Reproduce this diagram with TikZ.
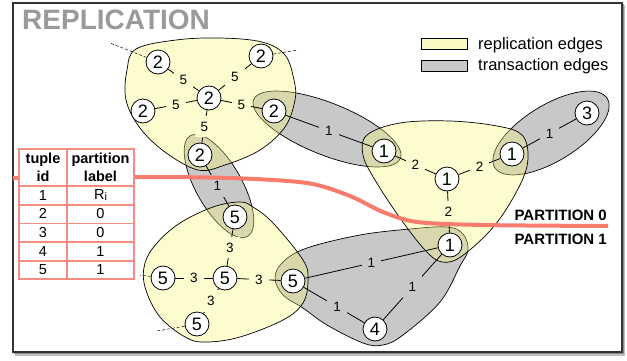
\documentclass[tikz,border=0pt]{standalone}
\usepackage{fontspec}
\setmainfont{Liberation Sans}
\usepackage{xcolor}
\definecolor{ylwfill}{HTML}{F7F778}
\definecolor{ylwbg}{HTML}{FCFCD0}
\definecolor{ylwkey}{HTML}{FAFAC3}
\definecolor{grayfill}{HTML}{C8C8C8}
\definecolor{salmon}{HTML}{F97B6E}
\definecolor{tabline}{HTML}{F48C82}
\definecolor{titlegray}{HTML}{9A9A9A}
\usepackage{tikz}
\usetikzlibrary{positioning,calc}
\newcommand{\fsz}[1]{\fontsize{#1}{#1}\selectfont}

\begin{document}
\begin{tikzpicture}[x=1pt,y=-1pt,
    tup/.style={circle,draw,fill=white,line width=0.8pt,minimum size=24pt,inner sep=0pt,font=\fsz{18}},
    elab/.style={fill=ylwbg,inner sep=6pt,font=\fsz{13.5}},
    glab/.style={elab,fill=grayfill},
    txn/.style={fill=grayfill,draw=black,line width=0.7pt},
    repl/.style={fill=ylwfill,fill opacity=0.35,draw=black,line width=0.7pt},
    ext/.style={densely dashed,line width=0.5pt},
    cell/.style={font=\fsz{14.5},inner sep=0pt}]
  \useasboundingbox (0,0) rectangle (627,360);
  % frame and title
  \fill[black!25] (15,5) rectangle (625,356);
  \fill[black!45] (14,4) rectangle (623.5,354);
  \draw[fill=white,draw=black!80,line width=1.2pt] (13,3) rectangle (622,352);
  \node[font=\fsz{28}\bfseries, text=titlegray, anchor=base west, inner sep=0pt] (title) at (22,29.5) {REPLICATION};
  % legend
  \node[draw,fill=ylwkey,minimum width=46pt,minimum height=11pt,inner sep=0pt] (keyrepl) at (444,43.5) {};
  \node[draw,fill=grayfill,minimum width=46pt,minimum height=11pt,inner sep=0pt] (keytxn) at (444,65.5) {};
  \node[font=\fsz{16.5}, anchor=base west, inner sep=0pt] (keyrepltxt) at (478,49) {replication edges};
  \node[font=\fsz{16.5}, anchor=base west, inner sep=0pt] (keytxntxt) at (478,70.5) {transaction edges};
  % transaction edges
  \draw[txn, rotate around={-21.8:(327,129)}] (327,129) ellipse [x radius=79, y radius=26];
  \draw[txn, rotate around={-60.6:(219,186)}] (219,186) ellipse [x radius=58, y radius=23];
  \draw[txn, rotate around={31.5:(551,133)}] (551,133) ellipse [x radius=66, y radius=28];
  \draw[txn] plot[smooth cycle, tension=0.6] coordinates {(275,278) (283,262) (307,248) (360,235) (410,229) (447,227) (463,234) (468,250) (460,266) (440,302) (403,335) (383,345) (363,343) (327,325) (303,308) (283,295)};
  % replication edges
  \draw[repl] plot[smooth cycle, tension=0.6] coordinates {(136,49) (176,40) (220,38) (262,42) (285,55) (294,80) (295,100) (285,127) (260,150) (225,165) (198,170) (165,152) (140,128) (126,100) (127,70)};
  \draw[repl] plot[smooth cycle, tension=0.6] coordinates {(367,135) (400,123) (450,121) (497,126) (522,135) (528,158) (520,185) (495,225) (462,256) (442,262) (425,250) (400,218) (375,180) (363,155)};
  \draw[repl] plot[smooth cycle, tension=0.6] coordinates {(240,202) (213,207) (180,223) (157,243) (145,263) (145,287) (160,317) (187,338) (207,342) (240,337) (283,320) (303,303) (308,280) (303,260) (273,223) (253,207)};
  % tuples
  \node[tup] (a) at (158,62) {2};
  \node[tup] (b) at (261,56) {2};
  \node[tup] (c) at (209,98) {2};
  \node[tup] (d) at (143,111) {2};
  \node[tup] (e) at (274,111) {2};
  \node[tup] (f) at (200,155) {2};
  \node[tup] (g) at (384,151) {1};
  \node[tup] (h) at (447,179) {1};
  \node[tup] (i) at (512,154) {1};
  \node[tup] (j) at (587,113) {3};
  \node[tup] (k) at (450,245) {1};
  \node[tup] (l) at (235,217) {5};
  \node[tup] (m) at (163,278) {5};
  \node[tup] (n) at (225,278) {5};
  \node[tup] (o) at (293,281) {5};
  \node[tup] (p) at (197,324) {5};
  \node[tup] (q) at (375,329) {4};
  \coordinate (aout) at (110,43);
  \coordinate (bout) at (298,50);
  \coordinate (mout) at (140,275);
  \coordinate (pout) at (157,331);
  % edges
  \draw[ext] (a) -- (aout);
  \draw[ext] (b) -- (bout);
  \draw[ext] (m) -- (mout);
  \draw[ext] (p) -- (pout);
  \draw[line width=0.8pt] (a) -- node[elab] {5} (c);
  \draw[line width=0.8pt] (b) -- node[elab] {5} (c);
  \draw[line width=0.8pt] (d) -- node[elab] {5} (c);
  \draw[line width=0.8pt] (c) -- node[elab] {5} (e);
  \draw[line width=0.8pt] (c) -- node[elab] {5} (f);
  \draw[line width=0.8pt] (e) -- node[glab] {1} (g);
  \draw[line width=0.8pt] (f) -- node[glab] {1} (l);
  \draw[line width=0.8pt] (g) -- node[elab] {2} (h);
  \draw[line width=0.8pt] (h) -- node[elab] {2} (i);
  \draw[line width=0.8pt] (h) -- node[elab] {2} (k);
  \draw[line width=0.8pt] (i) -- node[glab] {1} (j);
  \draw[line width=0.8pt] (l) -- node[elab] {3} (n);
  \draw[line width=0.8pt] (m) -- node[elab] {3} (n);
  \draw[line width=0.8pt] (n) -- node[elab] {3} (o);
  \draw[line width=0.8pt] (n) -- node[elab] {3} (p);
  \draw[line width=0.8pt] (o) -- node[glab] {1} (k);
  \draw[line width=0.8pt] (k) -- node[glab] {1} (q);
  \draw[line width=0.8pt] (o) -- node[glab, pos=0.55] {1} (q);
  % partition cut
  \draw[salmon, line width=4pt] plot[smooth] coordinates {(13,178) (133,177) (230,178) (307,183) (350,196) (383,212) (417,222) (483,225) (608,226)};
  \node[font=\fsz{15}\bfseries, anchor=base east, inner sep=0pt] (part0) at (607,220) {PARTITION 0};
  \node[font=\fsz{15}\bfseries, anchor=base east, inner sep=0pt] (part1) at (607,244) {PARTITION 1};
  % lookup table
  \fill[white] (19,149) rectangle (134,279);
  \draw[tabline, line width=1.6pt] (19,149) rectangle (134,279);
  \draw[tabline, line width=1.6pt] (67,149) -- (67,279);
  \foreach \y in {186,205,223.5,242,261}
    \draw[tabline, line width=1.6pt] (19,\y) -- (134,\y);
  \node[font=\fontsize{14.5}{17.5}\selectfont\bfseries, align=center, inner sep=0pt] (hid) at (43,167.5) {tuple\\id};
  \node[font=\fontsize{14.5}{17.5}\selectfont\bfseries, align=center, inner sep=0pt] (hlabel) at (100.5,167.5) {partition\\label};
  \foreach \t/\r [count=\k] in {1/{R\raisebox{-0.5pt}{\fsz{11}i}},2/0,3/0,4/1,5/1} {
    \node[cell] (id\k) at (43,{176.5+18.7*\k}) {\t};
    \node[cell] (lab\k) at (100.5,{176.5+18.7*\k}) {\r};
  }
\end{tikzpicture}
\end{document}
